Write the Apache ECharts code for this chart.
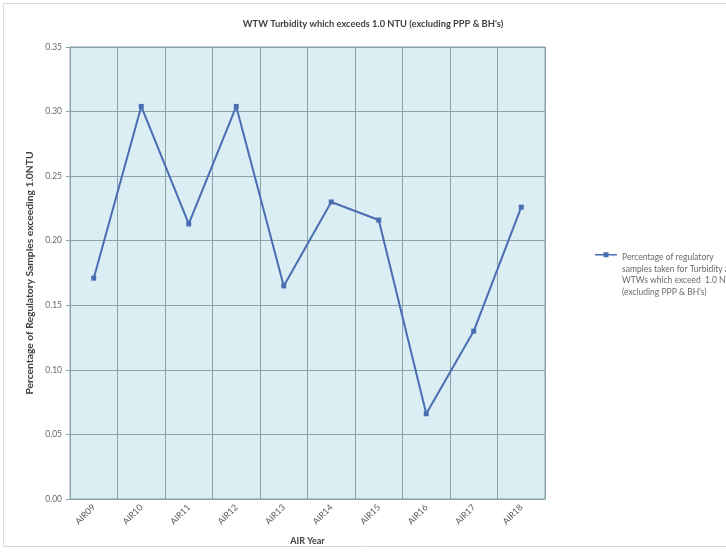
<!DOCTYPE html>
<html>
<head>
<meta charset="utf-8">
<script src="https://cdn.jsdelivr.net/npm/echarts@6/dist/echarts.min.js"></script>
<style>html,body{margin:0;padding:0;background:#fff}#c{width:726px;height:552px}</style>
</head>
<body>
<div id="c"></div>
<script>
const categories = ['AIR09','AIR10','AIR11','AIR12','AIR13','AIR14','AIR15','AIR16','AIR17','AIR18'];
const values = [0.171, 0.304, 0.213, 0.304, 0.165, 0.230, 0.216, 0.066, 0.130, 0.226];
const yTicks = [0, 0.05, 0.10, 0.15, 0.20, 0.25, 0.30, 0.35];
const seriesName = "Percentage of regulatory\nsamples taken for Turbidity at\nWTWs which exceed  1.0 NTU\n(excluding PPP & BH's)";

const font = 'Lato, "Open Sans", sans-serif';
const gridColor = '#8aa3a8';
const lineColor = '#4a6db3';
// legend icon: line + square marker at top of a tall box (tiny dot anchors box bottom)
const legendIcon = 'path://M0,2.3H22V3.7H0Z M8.5,0.5H13.5V5.5H8.5Z M0,45.9H0.05V46H0Z';
const chart = echarts.init(document.getElementById('c'), null, {renderer: 'canvas'});
chart.setOption({
  animation: false,
  backgroundColor: '#ffffff',
  graphic: [{
    type: 'rect', shape: {x: 3.5, y: 3.5, width: 740, height: 543}, silent: true,
    style: {fill: 'none', stroke: '#d9d9d9', lineWidth: 1}, z: -10
  }],
  title: {
    text: "WTW Turbidity which exceeds 1.0 NTU (excluding PPP & BH's)",
    left: 368, top: 14, textAlign: 'center',
    textStyle: {fontFamily: font, fontSize: 9.3, fontWeight: 'bold', color: '#404040'}
  },
  legend: {
    left: 590, top: 247, orient: 'vertical',
    itemWidth: 22, itemHeight: 46, itemGap: 4,
    textStyle: {fontFamily: font, fontSize: 8.5, color: '#6a6a6a', lineHeight: 11.5},
    data: [{name: seriesName, icon: legendIcon, itemStyle: {color: lineColor}}]
  },
  grid: {left: 70, right: 181, top: 47, bottom: 53, show: true, backgroundColor: '#dbeef4', borderColor: gridColor, borderWidth: 1},
  xAxis: {
    type: 'category', data: categories, boundaryGap: true,
    name: 'AIR Year', nameLocation: 'middle', nameGap: 38,
    nameTextStyle: {fontFamily: font, fontSize: 9, fontWeight: 'bold', color: '#404040'},
    axisLine: {show: true, lineStyle: {color: gridColor, width: 1}},
    axisTick: {show: false},
    axisLabel: {rotate: 45, fontFamily: font, fontSize: 8.8, color: '#595959', margin: 7, interval: 0},
    splitLine: {show: true, lineStyle: {color: gridColor, width: 1}}
  },
  yAxis: {
    type: 'value', min: 0, max: 0.35, interval: 0.05,
    name: 'Percentage of Regulatory Samples exceeding 1.0NTU', nameLocation: 'middle', nameGap: 33,
    nameTextStyle: {fontFamily: font, fontSize: 10.3, fontWeight: 'bold', color: '#404040'},
    axisLine: {show: true, lineStyle: {color: gridColor}},
    axisTick: {show: true, length: 4, lineStyle: {color: gridColor}},
    axisLabel: {fontFamily: font, fontSize: 8.5, color: '#6a6a6a', margin: 8,
      formatter: v => yTicks.includes(+v.toFixed(2)) ? v.toFixed(2) : ''},
    splitLine: {show: true, lineStyle: {color: gridColor, width: 1}}
  },
  series: [{
    name: seriesName, type: 'line', data: values,
    symbol: 'rect', symbolSize: 5,
    lineStyle: {color: lineColor, width: 2},
    itemStyle: {color: lineColor}
  }]
});
</script>
</body>
</html>
